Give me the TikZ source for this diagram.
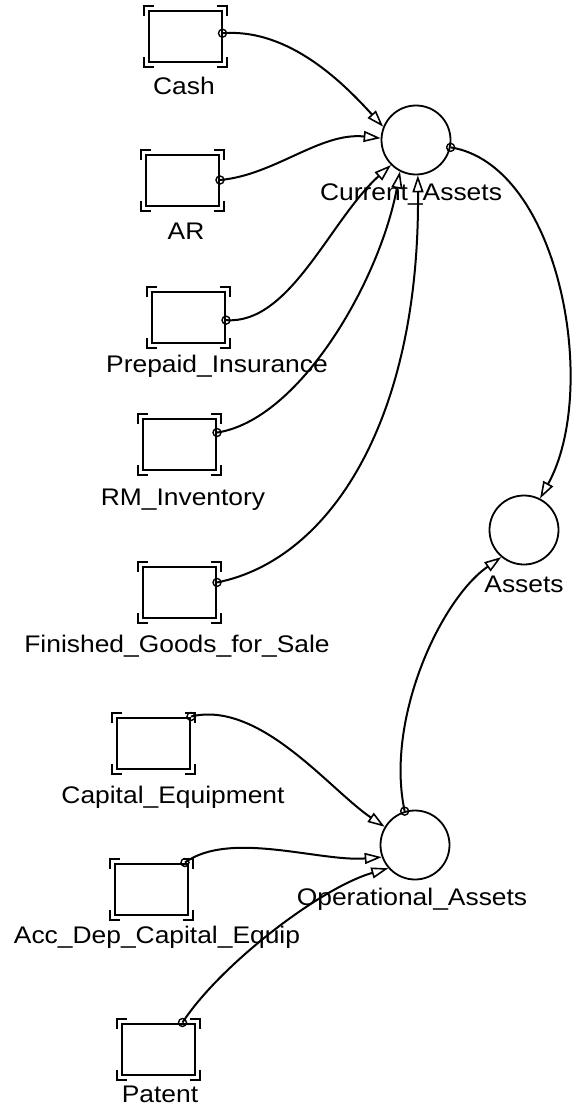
\documentclass[tikz,border=0pt]{standalone}
\usepackage{fontspec}
\setmainfont{Liberation Sans}[FakeStretch=1.1]
\usetikzlibrary{arrows.meta,calc}
\begin{document}
\begin{tikzpicture}[x=1pt,y=-1pt,
  stock/.style={draw,line width=2pt,minimum width=73pt,minimum height=51pt,inner sep=0pt},
  aux/.style={draw,circle,line width=1.8pt,minimum size=69pt,inner sep=0pt},
  lbl/.style={anchor=base,font=\fontsize{24}{28}\selectfont,inner sep=0pt},
  link/.style={line width=2pt,-{Triangle[open,length=17pt,width=11pt,line width=1.6pt]}},
  tap/.style={line width=1.4pt},
  bracket/.style={line width=2pt}]
\useasboundingbox (0,0) rectangle (587,1120);

% stocks
\node[stock] (cash) at (185,36.5) {};
\node[stock] (ar)   at (182.5,180) {};
\node[stock] (pi)   at (188.5,317.5) {};
\node[stock] (rm)   at (179.5,444) {};
\node[stock] (fg)   at (179.5,592.5) {};
\node[stock] (cap)  at (153.5,743) {};
\node[stock] (acc)  at (151.5,889) {};
\node[stock] (pat)  at (158,1049) {};

% corner brackets around each stock
\foreach \n in {cash,ar,pi,rm,fg,cap,acc,pat}{
  \draw[bracket,shift={(\n.north west)}] (-4,6) -- (-4,-4) -- (6,-4);
  \draw[bracket,shift={(\n.north east)}] (-6,-4) -- (4,-4) -- (4,6);
  \draw[bracket,shift={(\n.south west)}] (-4,-6) -- (-4,4) -- (6,4);
  \draw[bracket,shift={(\n.south east)}] (-6,4) -- (4,4) -- (4,-6);
}

% converters
\node[aux] (ca) at (416,140) {};
\node[aux] (as) at (524,530) {};
\node[aux] (oa) at (415,845) {};

% labels
\node[lbl] (cash-l) at (184,94) {Cash};
\node[lbl] (ar-l)   at (186,239) {AR};
\node[lbl] (pi-l)   at (217,372) {Prepaid\_Insurance};
\node[lbl] (rm-l)   at (183,505) {RM\_Inventory};
\node[lbl] (fg-l)   at (177,652) {Finished\_Goods\_for\_Sale};
\node[lbl] (cap-l)  at (173,803) {Capital\_Equipment};
\node[lbl] (acc-l)  at (157,943) {Acc\_Dep\_Capital\_Equip};
\node[lbl] (pat-l)  at (160,1102) {Patent};
\node[lbl] (ca-l)   at (411,200) {Current\_Assets};
\node[lbl] (as-l)   at (524,592) {Assets};
\node[lbl] (oa-l)   at (412,905) {Operational\_Assets};

% connector origins
\coordinate (cash-o) at (cash.5.5);
\coordinate (ar-o)   at (ar.east);
\coordinate (pi-o)   at (pi.-4);
\coordinate (rm-o)   at (rm.17);
\coordinate (fg-o)   at (fg.15);
\coordinate (cap-o)  at (cap.north east);
\coordinate (acc-o)  at ([xshift=-4pt]acc.north east);
\coordinate (pat-o)  at ([xshift=-13pt]pat.north east);
\coordinate (ca-o)   at (ca.348);
\coordinate (oa-o)   at (oa.107);

\foreach \c in {cash-o,ar-o,pi-o,rm-o,fg-o,cap-o,acc-o,pat-o,ca-o,oa-o}
  \draw[tap] (\c) circle (4);

% connectors
\draw[link] (cash-o) .. controls (290,28) and (345,85) .. (ca.158);
\draw[link] (ar-o) .. controls (275,175) and (320,132) .. (ca.177);
\draw[link] (pi-o) .. controls (290,325) and (330,220) .. (ca.225);
\draw[link] (rm-o) .. controls (300,420) and (380,280) .. (ca.243);
\draw[link] (fg-o) .. controls (330,560) and (420,420) .. (ca.273);
\draw[link] (ca-o) .. controls (560,165) and (600,390) .. (as.63);
\draw[link] (oa-o) .. controls (385,720) and (440,600) .. (as.230);
\draw[link] (cap-o) .. controls (260,700) and (330,790) .. (oa.149);
\draw[link] (acc-o) .. controls (230,830) and (320,862) .. (oa.200);
\draw[link] (pat-o) .. controls (220,965) and (320,888) .. (oa.221);
\end{tikzpicture}
\end{document}
